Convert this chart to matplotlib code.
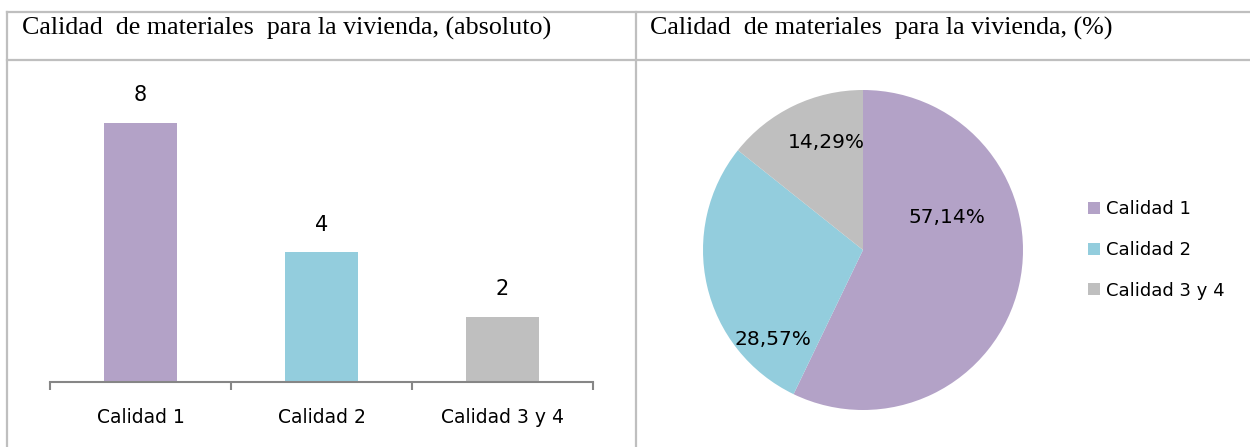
import matplotlib.pyplot as plt
from matplotlib.lines import Line2D

# Data
categories = ['Calidad 1', 'Calidad 2', 'Calidad 3 y 4']
counts = [8, 4, 2]
colors = ['#B3A2C7', '#93CDDD', '#BFBFBF']
title_left = 'Calidad  de materiales  para la vivienda, (absoluto)'
title_right = 'Calidad  de materiales  para la vivienda, (%)'

W, H = 1250, 447
fig = plt.figure(figsize=(W / 100, H / 100), dpi=100)


def fx(x):
    return x / W


def fy(y):
    return 1 - y / H


# table grid
grid_kw = dict(color='#BFBFBF', linewidth=1.6, transform=fig.transFigure)
fig.add_artist(Line2D([fx(7), 1], [fy(12), fy(12)], **grid_kw))
fig.add_artist(Line2D([fx(7), 1], [fy(60), fy(60)], **grid_kw))
fig.add_artist(Line2D([fx(7), fx(7)], [fy(12), 0], **grid_kw))
fig.add_artist(Line2D([fx(636), fx(636)], [fy(12), 0], **grid_kw))

title_kw = dict(family='Liberation Serif', fontsize=18.7, va='baseline', ha='left')
fig.text(fx(22), fy(35), title_left, **title_kw)
fig.text(fx(650), fy(35), title_right, **title_kw)

# bar chart
ax1 = fig.add_axes([fx(50), fy(382), (593 - 50) / W, 291.6 / H])
x = range(len(categories))
bars = ax1.bar(x, counts, width=0.4, color=colors)
ax1.set_xlim(-0.5, len(categories) - 0.5)
ax1.set_ylim(0, 9)
for s in ['top', 'right', 'left']:
    ax1.spines[s].set_visible(False)
ax1.spines['bottom'].set_color('#868686')
ax1.spines['bottom'].set_linewidth(1.5)
ax1.set_yticks([])
ax1.set_xticks([i - 0.5 for i in range(len(categories) + 1)])
ax1.set_xticklabels([])
ax1.tick_params(axis='x', which='major', direction='out', length=6, width=1.5, color='#868686')
ax1.set_xticks(list(x), minor=True)
ax1.set_xticklabels(categories, minor=True, fontsize=13.5)
ax1.tick_params(axis='x', which='minor', length=0, pad=19)
for b, v in zip(bars, counts):
    ax1.annotate(str(v), (b.get_x() + b.get_width() / 2, v), xytext=(0, 20),
                 textcoords='offset points', ha='center', va='center', fontsize=15)

# pie chart
ax2 = fig.add_axes([fx(703), fy(410), 320 / W, 320 / H])
wedges, _ = ax2.pie(counts, colors=colors, startangle=90, counterclock=False, radius=1)
ax2.set_xlim(-1, 1)
ax2.set_ylim(-1, 1)
ax2.set_aspect('equal')
total = sum(counts)
label_pos = [(0.523, 0.202), (-0.56, -0.5625), (-0.231, 0.673)]
for (lx, ly), v in zip(label_pos, counts):
    txt = f'{100 * v / total:.2f}%'.replace('.', ',')
    ax2.text(lx, ly, txt, ha='center', va='center', fontsize=14.5)

fig.legend(wedges, categories, loc='center left', bbox_to_anchor=(fx(1079), fy(250)),
           frameon=False, fontsize=13, handlelength=0.65, handleheight=0.65,
           handletextpad=0.35, labelspacing=1.25, borderpad=0)

fig.savefig('out.png', dpi=100)
